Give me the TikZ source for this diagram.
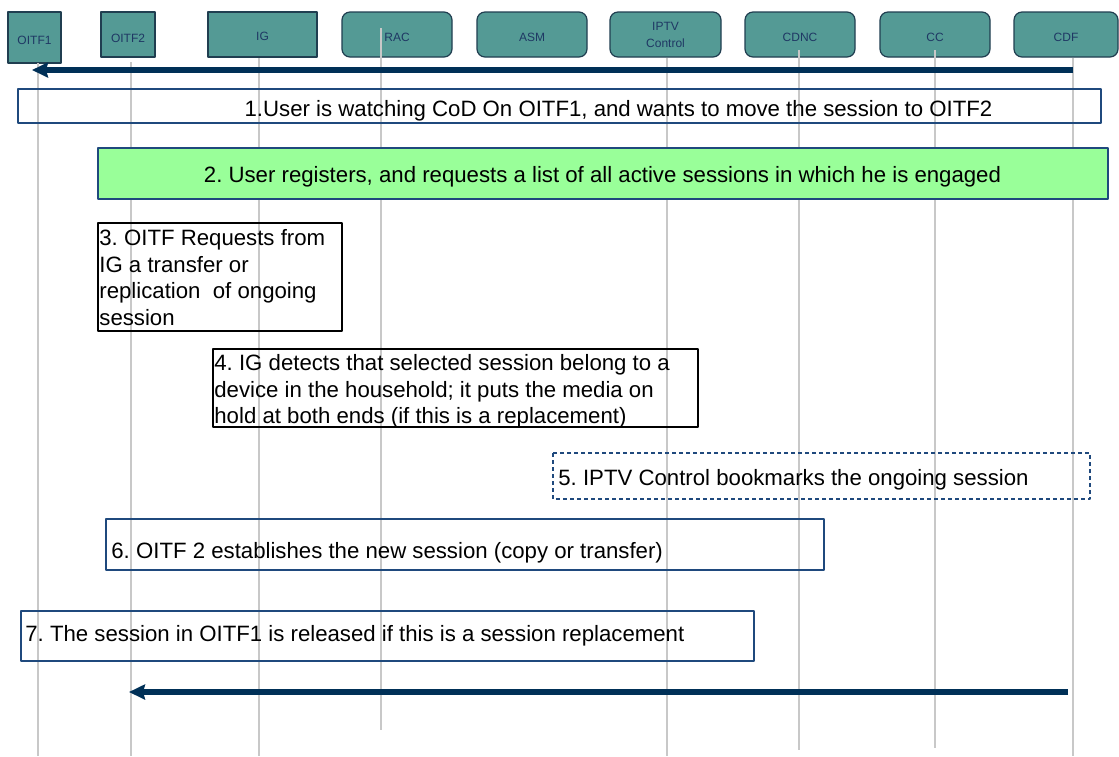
\documentclass[tikz,border=0pt]{standalone}
\usepackage{fontspec}
\setmainfont{Liberation Sans}
\usetikzlibrary{arrows.meta}

\definecolor{hdrfill}{RGB}{84,154,149}
\definecolor{hdrline}{RGB}{32,62,80}
\definecolor{hdrtext}{RGB}{31,56,100}
\definecolor{stepline}{RGB}{31,73,125}
\definecolor{stepgreen}{RGB}{153,255,153}
\definecolor{msgblue}{RGB}{0,48,87}
\definecolor{lifegray}{RGB}{200,200,200}

\frenchspacing

\begin{document}
\begin{tikzpicture}[x=0.5pt, y=-0.5pt, line join=round,
  hdr/.style={draw=hdrline, fill=hdrfill, line width=0.6pt, inner sep=0pt,
    minimum width=55pt, minimum height=22.5pt, text=hdrtext,
    font=\fontsize{6}{8.5}\selectfont, align=center},
  hdrround/.style={hdr, rounded corners=4pt},
  hdrlow/.style={text height=7.3pt, text depth=0pt},
  lifeline/.style={draw=lifegray, line width=0.7pt},
  msg/.style={draw=msgblue, line width=2.7pt,
    -{Stealth[length=8pt, width=7.5pt, inset=1pt]}},
  stepbox/.style={draw=stepline, line width=0.7pt},
  steptext/.style={inner sep=0pt, font=\fontsize{11.1}{13.35}\selectfont, align=left}]
  \fill[white] (0,0) rectangle (1119,756);

  % Participants
  \node[hdr, hdrlow, minimum width=26.5pt, minimum height=25.5pt] (oitf1) at (34.5,37.5) {OITF1};
  \node[hdr, hdrlow, text height=8.3pt, minimum width=27pt] (oitf2) at (128,34.5) {OITF2};
  \node[hdr, hdrlow, text height=6.3pt, minimum width=54.5pt] (ig) at (262.5,34.5) {IG};
  \node[hdrround, hdrlow] (rac) at (397,34.5) {RAC};
  \node[hdrround, hdrlow] (asm) at (532,34.5) {ASM};
  \node[hdrround, minimum width=55.5pt] (iptv) at (665.5,34.5) {IPTV\\Control};
  \node[hdrround, hdrlow] (cdnc) at (800,34.5) {CDNC};
  \node[hdrround, hdrlow] (cc) at (935,34.5) {CC};
  \node[hdrround, hdrlow, minimum width=52pt] (cdf) at (1066,34.5) {CDF};

  % Lifelines
  \draw[lifeline] (38,63) -- (38,756);
  \draw[lifeline] (131,62) -- (131,756);
  \draw[lifeline] (259,58) -- (259,756);
  \draw[lifeline] (381,28) -- (381,730);
  \draw[lifeline] (667,58) -- (667,756);
  \draw[lifeline] (799,50) -- (799,750);
  \draw[lifeline] (935,50) -- (935,748);
  \draw[lifeline] (1073,58) -- (1073,756);

  % Message ends
  \coordinate (cdfA) at (1073,70);
  \coordinate (oitf1A) at (32,70);
  \coordinate (cdfB) at (1068,692);
  \coordinate (oitf2B) at (129,692);

  \draw[msg] (cdfA) -- (oitf1A);

  % Steps
  \draw[stepbox] (18,89) rectangle (1101,123);
  \node[steptext, anchor=base] (step1) at (618.5,116.5)
    {1.User is watching CoD On OITF1, and wants to move the session to OITF2};

  \draw[stepbox, fill=stepgreen] (98,148) rectangle (1108,199);
  \node[steptext, anchor=base] (step2) at (602.5,182)
    {2. User registers, and requests a list of all active sessions in which he is engaged};

  \draw[black, line width=0.7pt] (98,223) rectangle (342,331);
  \node[steptext, anchor=north west] (step3) at (99,229)
    {3. OITF Requests from\\IG a transfer or\\replication\ \ of ongoing\\session};

  \draw[black, line width=0.7pt] (213,349) rectangle (698,427);
  \node[steptext, anchor=north west] (step4) at (214,354)
    {4. IG detects that selected session belong to a\\device in the household; it puts the media on\\hold at both ends (if this is a replacement)};

  \draw[stepbox, dash pattern=on 2pt off 1.5pt] (553,453) rectangle (1090,499);
  \node[steptext, anchor=base west] (step5) at (558,485)
    {5. IPTV Control bookmarks the ongoing session};

  \draw[stepbox] (106,519) rectangle (824,570);
  \node[steptext, anchor=base west] (step6) at (111,558.5)
    {6. OITF 2 establishes the new session (copy or transfer)};

  \draw[stepbox] (21,611) rectangle (754,661);
  \node[steptext, anchor=base west] (step7) at (25,641.5)
    {7. The session in OITF1 is released if this is a session replacement};

  \draw[msg] (cdfB) -- (oitf2B);
\end{tikzpicture}
\end{document}
